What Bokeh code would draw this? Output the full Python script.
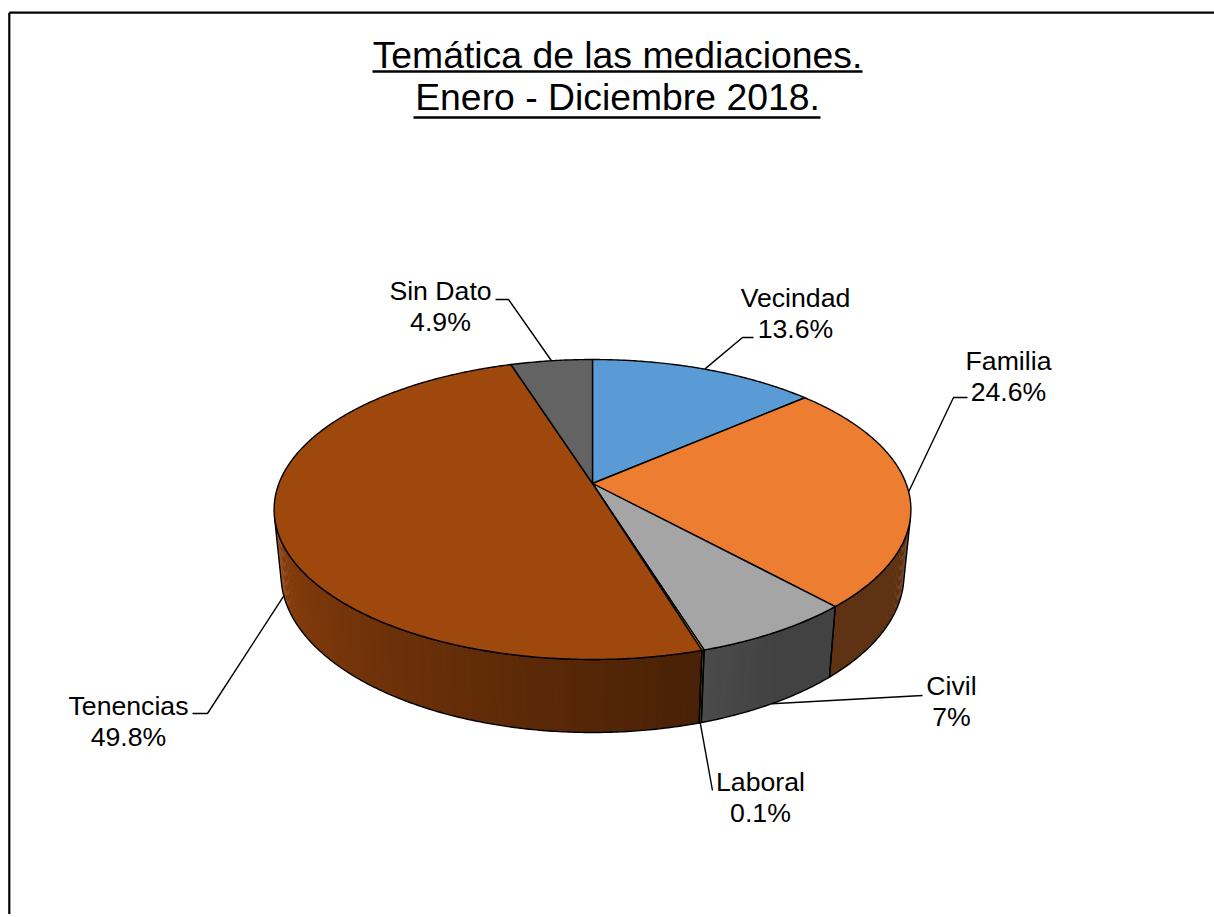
import math
import numpy as np
from bokeh.plotting import figure
from bokeh.models import Range1d
from bokeh.core.properties import value
from bokeh.embed import file_html
from bokeh.resources import INLINE

# ---------------- data ----------------
title_lines = ["Temática de las mediaciones.", "Enero - Diciembre 2018."]
categories = ["Vecindad", "Familia", "Civil", "Laboral", "Tenencias", "Sin Dato"]
percentages = [13.6, 24.6, 7.0, 0.1, 49.8, 4.9]
top_colors = ["#5B9BD5", "#ED7D31", "#A5A5A5", "#FFC000", "#9E480E", "#636363"]

# ---------------- layout / style ----------------
FONT = "Liberation Sans"
W, H = 1214, 914
CX, CY = 592.0, 483.0          # pie apex on screen
F = 1603.0                     # focal length (px)
DIST = 5.112                   # camera distance (pie radii)
TILT = math.radians(27.64)     # elevation
DEPTH = 0.2366                 # pie thickness (radii)
S, C = math.sin(TILT), math.cos(TILT)
LABEL_SHIFT = -10              # text placement correction (labels)
TITLE_SHIFT = -13              # text placement correction (title)

# label layout: centre x, first baseline, elbow points, anchor on top (True) or wall bottom (False)
label_layout = {
    "Vecindad": (795, 307, [(753, 337), (742, 337)], True),
    "Familia": (1008, 370, [(967, 397), (953, 397)], True),
    "Civil": (951, 695, [(922, 695)], False),
    "Laboral": (760, 791, [(712, 790)], False),
    "Tenencias": (128, 715, [(192, 713), (207, 713)], False),
    "Sin Dato": (440, 300, [(495, 299), (508, 299)], True),
}


def project(alpha_deg, y, r=1.0):
    a = np.radians(alpha_deg)
    X = r * np.sin(a)
    Z = -r * np.cos(a)
    up = y * C - Z * S
    tw = y * S + Z * C
    d = DIST - tw
    return CX + F * X / d, CY - F * up / d


def hexmix(col, f):
    col = col.lstrip("#")
    r, g, b = (int(col[i:i + 2], 16) for i in (0, 2, 4))
    return "#%02x%02x%02x" % (int(r * f), int(g * f), int(b * f))


def shade(alpha):
    t = min(max((alpha - 150.0) / 107.0, 0.0), 1.0)
    return 0.40 + 0.49 * t


p = figure(width=W, height=H, x_range=Range1d(0, W), y_range=Range1d(H, 0),
           output_backend="svg", toolbar_location=None, min_border=0)
p.axis.visible = False
p.grid.visible = False
p.outline_line_color = None
p.background_fill_color = "white"
p.border_fill_color = "white"

# frame (left and top edges visible)
p.line(x=[8.8, W], y=[12.2, 12.2], line_color="black", line_width=2.2)
p.line(x=[8.8, 8.8], y=[12.2, H], line_color="black", line_width=2.2)

# slice angles
total = sum(percentages)
starts, ends = [], []
acc = 0.0
for v in percentages:
    starts.append(acc / total * 360.0)
    acc += v
    ends.append(acc / total * 360.0)

vis_lo = math.degrees(math.acos(-1.0 / (DIST * C)))
vis_hi = 360.0 - vis_lo

# ---------------- walls ----------------
wall_outline_x, wall_outline_y = [], []
for cat, a1, a2, col in zip(categories, starts, ends, top_colors):
    lo, hi = max(a1, vis_lo), min(a2, vis_hi)
    if hi <= lo:
        continue
    k = max(1, int((hi - lo) / 1.0))
    edges = np.linspace(lo, hi, k + 1)
    sx, sy, sc = [], [], []
    for i in range(k):
        t0, t1 = edges[i], min(edges[i + 1] + 0.4, hi)
        ang = np.linspace(t0, t1, 4)
        tx, ty = project(ang, 0.0)
        bx, by = project(ang[::-1], -DEPTH)
        sx.append(list(tx) + list(bx))
        sy.append(list(ty) + list(by))
        sc.append(hexmix(col, shade(0.5 * (t0 + t1))))
    p.patches(xs=sx, ys=sy, fill_color=sc, line_color=None)
    ang = np.linspace(lo, hi, max(3, int((hi - lo) * 2)))
    tx, ty = project(ang, 0.0)
    bx, by = project(ang[::-1], -DEPTH)
    wall_outline_x.append(list(tx) + list(bx))
    wall_outline_y.append(list(ty) + list(by))

p.patches(xs=wall_outline_x, ys=wall_outline_y, fill_alpha=0, line_color="black",
          line_width=1.4, line_join="round")

# ---------------- top faces ----------------
top_x, top_y = [], []
for a1, a2 in zip(starts, ends):
    ang = np.linspace(a1, a2, max(3, int((a2 - a1) * 2) + 2))
    tx, ty = project(ang, 0.0)
    top_x.append([CX] + list(tx))
    top_y.append([CY] + list(ty))
p.patches(xs=top_x, ys=top_y, fill_color=top_colors, line_color="black",
          line_width=1.4, line_join="round")

# ---------------- labels & leaders ----------------
lx, ly, lt = [], [], []
for cat, v, a1, a2 in zip(categories, percentages, starts, ends):
    cxl, base, elbow, on_top = label_layout[cat]
    mid = 0.5 * (a1 + a2)
    ax, ay = project(mid, 0.0 if on_top else -DEPTH)
    xs = [e[0] for e in elbow] + [float(ax)]
    ys = [e[1] for e in elbow] + [float(ay)]
    p.line(x=xs, y=ys, line_color="black", line_width=1.4)
    lx += [cxl, cxl]
    ly += [base + LABEL_SHIFT, base + 31 + LABEL_SHIFT]
    lt += [cat, f"{v:g}%"]

p.text(x=lx, y=ly, text=lt, text_font=value(FONT), text_font_size=value("26.67px"),
       text_align="center", text_baseline="alphabetic", text_color="black")

# ---------------- title ----------------
p.text(x=[617, 617], y=[67 + TITLE_SHIFT, 109 + TITLE_SHIFT], text=title_lines,
       text_font=value(FONT), text_font_size=value("37.33px"), text_align="center",
       text_baseline="alphabetic", text_color="black")
p.segment(x0=[372, 413], y0=[71, 117], x1=[862, 820], y1=[71, 117],
          line_color="black", line_width=2.5)

open("out.html", "w").write(file_html(p, INLINE))
